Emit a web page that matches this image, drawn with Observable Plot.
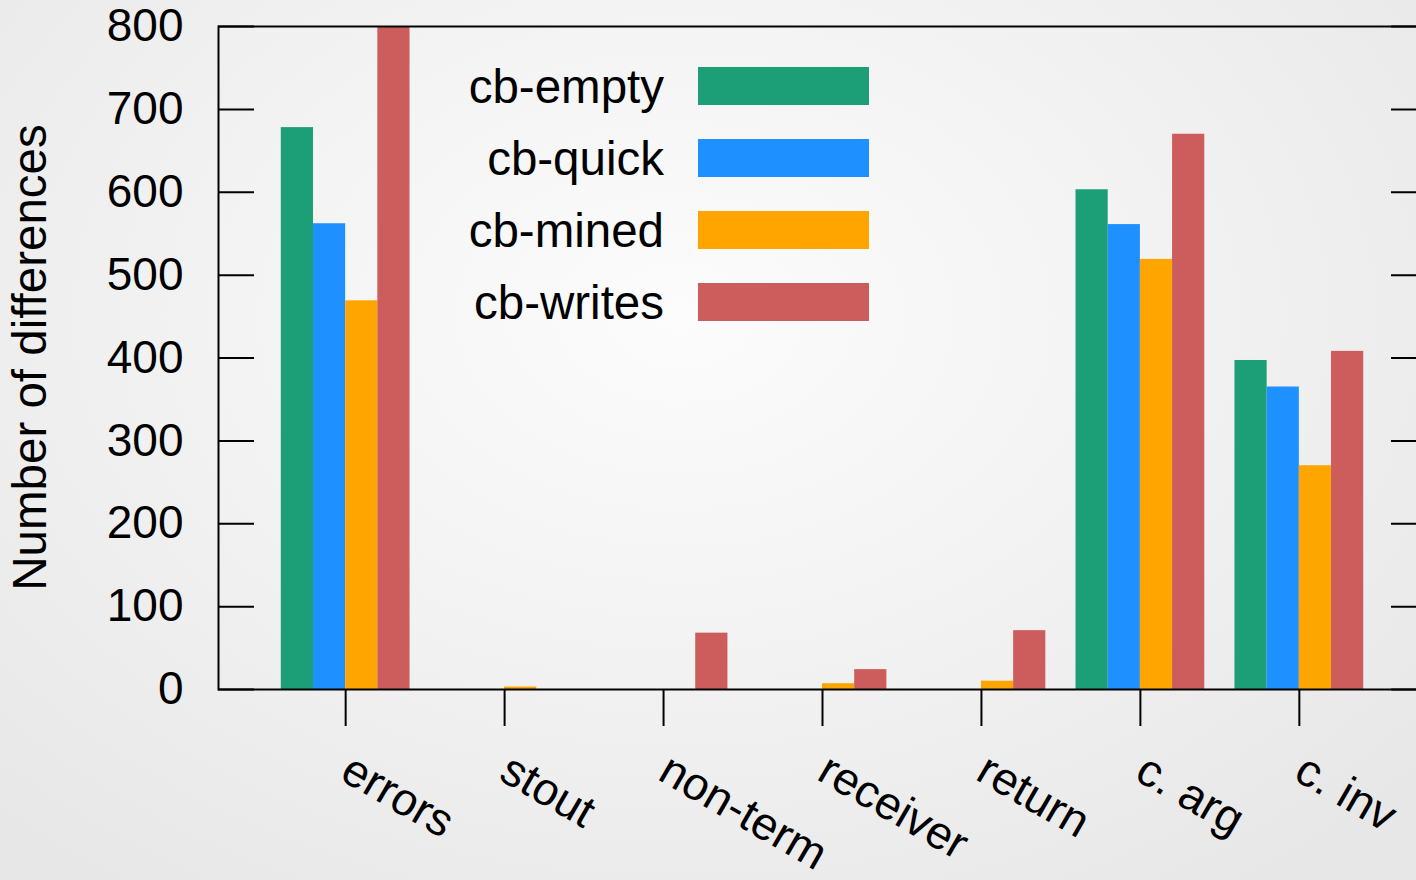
<!DOCTYPE html>
<html>
<head>
<meta charset="utf-8">
<script src="https://cdn.jsdelivr.net/npm/d3@7"></script>
<script src="https://cdn.jsdelivr.net/npm/@observablehq/plot@0.6"></script>
<style>
  html, body { margin: 0; padding: 0; width: 1416px; height: 880px; overflow: hidden; }
  body {
    background: radial-gradient(ellipse 70% 80% at 48% 36%, #fcfcfc 0%, #f3f3f3 45%, #e7e7e7 100%);
    font-family: "Liberation Sans", Arial, Helvetica, sans-serif;
  }
  #chart svg { display: block; }
</style>
</head>
<body>
<div id="chart"></div>
<script>
// Differences found per category, one array per configuration
const categories = ["errors", "stout", "non-term", "receiver", "return", "c. arg", "c. inv"];
const series = ["cb-empty", "cb-quick", "cb-mined", "cb-writes"];
const seriesColors = ["#1c9e77", "#1e90ff", "#ffa500", "#cd5c5c"];
const cbEmpty  = [678, 0, 0, 0, 0, 603, 397];
const cbQuick  = [562, 0, 0, 0, 0, 561, 365];
const cbMined  = [469, 3, 0, 7, 10, 519, 270];
const cbWrites = [800, 0, 68, 24, 71, 670, 408];
const yTicks = [0, 100, 200, 300, 400, 500, 600, 700, 800];

// Long table: each category sits at an integer x, bars share 0.81 of a unit
const values = [cbEmpty, cbQuick, cbMined, cbWrites];
const groupWidth = 0.81;
const slot = groupWidth / series.length;
const rows = [];
categories.forEach((c, i) => {
  series.forEach((s, j) => {
    const v = values[j][i];
    if (v > 0) {
      const x1 = i - groupWidth / 2 + j * slot;
      rows.push({category: c, series: s, value: v, x1, x2: x1 + slot});
    }
  });
});

const W = 1442, H = 880;
const mL = 218, mR = 16, mT = 26, mB = 191;
const innerW = W - mL - mR;
const font = "'Liberation Sans', Arial, Helvetica, sans-serif";

const chart = Plot.plot({
  width: W,
  height: H,
  marginLeft: mL,
  marginRight: mR,
  marginTop: mT,
  marginBottom: mB,
  style: {background: "transparent", fontFamily: font, fontSize: "46px", color: "#000", maxWidth: "none", overflow: "visible"},
  x: {domain: [-0.8, categories.length - 0.2], axis: null},
  y: {domain: [0, 800], axis: null},
  color: {domain: series, range: seriesColors},
  marks: [
    Plot.rect(rows, {x1: "x1", x2: "x2", y1: 0, y2: "value", fill: "series"}),
    // tick labels on the left, tick marks drawn inward on both sides
    Plot.axisY({ticks: yTicks, tickSize: 0, tickPadding: 35, fontSize: 46, label: null}),
    Plot.tickY(yTicks, {y: d => d, stroke: "#000", strokeWidth: 2, insetRight: innerW - 36}),
    Plot.tickY(yTicks, {y: d => d, stroke: "#000", strokeWidth: 2, insetLeft: innerW - 35}),
    // outward category ticks
    Plot.axisX({ticks: d3.range(categories.length), tickSize: 37, strokeWidth: 2, tickFormat: () => "", label: null}),
    Plot.text(d3.range(categories.length), {
      x: d => d, frameAnchor: "bottom", text: i => categories[i],
      rotate: 30, textAnchor: "start", lineAnchor: "top", dx: 9, dy: 61, fontSize: 46, fill: "#000"
    }),
    Plot.frame({stroke: "#000", strokeWidth: 2})
  ]
});

document.getElementById("chart").appendChild(chart);

const svg = d3.select(chart);

// y-axis title
svg.append("text")
  .attr("transform", `translate(46,${(mT + H - mB) / 2}) rotate(-90)`)
  .attr("text-anchor", "middle")
  .attr("font-family", font)
  .attr("font-size", 47.5)
  .attr("fill", "#000")
  .text("Number of differences");

// key inside the plot area
const key = svg.append("g").attr("font-family", font).attr("font-size", 47.5).attr("fill", "#000");
series.forEach((s, i) => {
  const cy = 86 + i * 72;
  key.append("text").attr("x", 664).attr("y", cy + 17).attr("text-anchor", "end").text(s);
  key.append("rect").attr("x", 698).attr("y", cy - 19).attr("width", 171).attr("height", 38).attr("fill", seriesColors[i]);
});
</script>
</body>
</html>
